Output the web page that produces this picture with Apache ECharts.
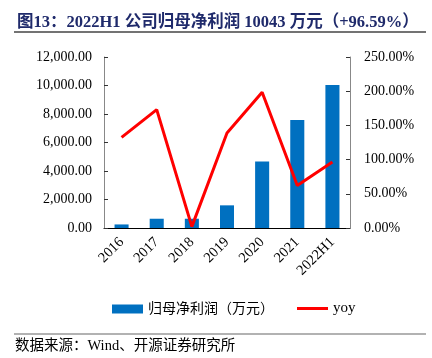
<!DOCTYPE html>
<html>
<head>
<meta charset="utf-8">
<script src="https://cdn.jsdelivr.net/npm/echarts@6/dist/echarts.min.js"></script>
<style>html,body{margin:0;padding:0;background:#fff;}#c{width:432px;height:358px;}</style>
</head>
<body>
<div id="c"></div>
<script>
var categories = ['2016', '2017', '2018', '2019', '2020', '2021', '2022H1'];
var profit = [250, 650, 650, 1590, 4670, 7580, 10043];
var yoy = [132.5, 173, 2, 139, 198.5, 62, 96.59];
var leftTicks = { min: 0, max: 12000, interval: 2000 };
var rightTicks = { min: 0, max: 250, interval: 50 };
var titleText = '图13：2022H1 公司归母净利润 10043 万元（+96.59%）';
var sourceText = '数据来源：Wind、开源证券研究所';
var barName = '归母净利润（万元）';
var lineName = 'yoy';

var serif = "'Liberation Serif', 'Noto Sans CJK SC', serif";
var chart = echarts.init(document.getElementById('c'), null, { renderer: 'canvas' });
chart.setOption({
  animation: false,
  backgroundColor: '#fff',
  title: {
    text: titleText, left: 12, top: 9,
    textStyle: { fontFamily: serif, fontSize: 16.5, fontWeight: 'bold', color: '#1F2A6B' }
  },
  graphic: [
    { type: 'line', shape: { x1: 14, y1: 32, x2: 426, y2: 32 }, style: { stroke: '#444', lineWidth: 1.5 } },
    { type: 'line', shape: { x1: 14, y1: 334, x2: 426, y2: 334 }, style: { stroke: '#999', lineWidth: 1.5 } },
    { type: 'text', left: 15, top: 339, style: { text: sourceText, font: "14.5px 'Liberation Serif', 'Noto Sans CJK SC'", fill: '#000' } }
  ],
  grid: { left: 104, right: 82, top: 57, bottom: 130 },
  legend: [
    { data: [{ name: barName, icon: 'rect' }], left: 107, top: 297, itemWidth: 31, itemHeight: 9, itemGap: 5,
      textStyle: { fontFamily: serif, fontSize: 14, color: '#000' } },
    { data: [{ name: lineName, icon: 'rect' }], left: 292, top: 296, itemWidth: 31, itemHeight: 3, itemGap: 4,
      textStyle: { fontFamily: serif, fontSize: 15, color: '#000' } }
  ],
  xAxis: {
    type: 'category', data: categories,
    axisLine: { lineStyle: { color: '#000', width: 1 } },
    axisTick: { inside: true, length: 4, lineStyle: { color: '#000' } },
    axisLabel: { rotate: 45, margin: 12, fontFamily: serif, fontSize: 14.5, color: '#000' }
  },
  yAxis: [
    { type: 'value', min: leftTicks.min, max: leftTicks.max, interval: leftTicks.interval,
      axisLine: { show: true, lineStyle: { color: '#888' } },
      axisTick: { show: true, inside: true, length: 4, lineStyle: { color: '#333' } },
      splitLine: { show: false },
      axisLabel: { margin: 12, fontFamily: serif, fontSize: 14, color: '#000',
        formatter: function (v) { return v.toLocaleString('en-US', { minimumFractionDigits: 2, maximumFractionDigits: 2 }); } } },
    { type: 'value', min: rightTicks.min, max: rightTicks.max, interval: rightTicks.interval, position: 'right',
      axisLine: { show: true, lineStyle: { color: '#888' } },
      axisTick: { show: true, inside: true, length: 4, lineStyle: { color: '#333' } },
      splitLine: { show: false },
      axisLabel: { margin: 14, fontFamily: serif, fontSize: 14, color: '#000',
        formatter: function (v) { return v.toFixed(2) + '%'; } } }
  ],
  series: [
    { name: barName, type: 'bar', data: profit, barWidth: '40%', itemStyle: { color: '#0070C0' } },
    { name: lineName, type: 'line', yAxisIndex: 1, data: yoy, symbol: 'none',
      lineStyle: { color: '#FF0000', width: 3 }, itemStyle: { color: '#FF0000' } }
  ]
});
</script>
</body>
</html>
